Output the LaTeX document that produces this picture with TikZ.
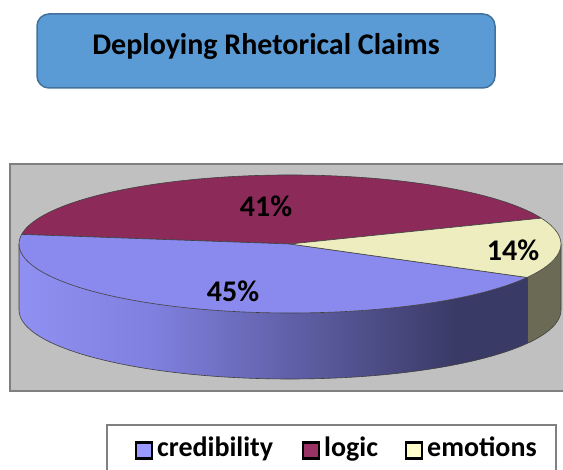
\documentclass[tikz,border=0pt]{standalone}
\usepackage{fontspec}
\setmainfont{Carlito}
\usetikzlibrary{calc}
\definecolor{titlefill}{HTML}{5B9BD5}
\definecolor{titleedge}{HTML}{41719C}
\definecolor{plotgray}{HTML}{C0C0C0}
\definecolor{frame}{HTML}{808080}
\definecolor{sliceblue}{HTML}{8A8AEE}
\definecolor{slicered}{HTML}{8C2A5A}
\definecolor{sliceyellow}{HTML}{EEEDC0}
\definecolor{sideyellow}{HTML}{6A6A55}
\definecolor{bsA}{HTML}{9090F2}
\definecolor{bsB}{HTML}{8080E0}
\definecolor{bsC}{HTML}{3A3A66}
\definecolor{legblue}{HTML}{9999FF}
\definecolor{legred}{HTML}{993366}
\definecolor{legyellow}{HTML}{FFFFCC}
\pgfdeclarehorizontalshading{bluesideshade}{100bp}{color(0bp)=(bsA); color(25bp)=(bsA); color(38bp)=(bsB); color(68bp)=(bsC); color(100bp)=(bsC)}
\tikzset{
  titlebox/.style={draw=titleedge, line width=1.5pt, fill=titlefill, rounded corners=12pt,
    minimum width=458pt, minimum height=74pt, font=\fontsize{30}{36}\selectfont\bfseries,
    text height=19pt, text depth=11pt},
  pielabel/.style={font=\fontsize{30}{36}\selectfont\bfseries, inner sep=0pt},
  legsq/.style={draw=black, line width=2.2pt, minimum width=16pt, minimum height=16pt, inner sep=0pt},
  legtext/.style={font=\fontsize{28}{34}\selectfont\bfseries, anchor=base west, inner sep=0pt},
  edge/.style={draw=black!75, line width=0.6pt}
}
\begin{document}
\begin{tikzpicture}[x=1pt,y=1pt]
\useasboundingbox (0,0) rectangle (563,470);
% title
\node[titlebox] (title) at (266,419) {Deploying Rhetorical Claims};
% plot area
\draw[frame, fill=plotgray, line width=1.5pt] (10,306) rectangle (580,79);
% pie geometry
\coordinate (c) at (290,226);
% blue side
\shade[shading=bluesideshade]
  ($(c)+(180:271pt and 69pt)$) arc[start angle=180, end angle=331, x radius=271pt, y radius=69pt]
  -- ++(0,-66) arc[start angle=331, end angle=180, x radius=271pt, y radius=69pt] -- cycle;
% yellow side
\fill[sideyellow]
  ($(c)+(331:271pt and 69pt)$) arc[start angle=331, end angle=360, x radius=271pt, y radius=69pt]
  -- ++(0,-66) arc[start angle=360, end angle=331, x radius=271pt, y radius=69pt] -- cycle;
% side outlines
\draw[edge] ($(c)+(180:271pt and 69pt)$) -- ++(0,-66)
  arc[start angle=180, end angle=360, x radius=271pt, y radius=69pt] -- ++(0,66);
\draw[edge] ($(c)+(331:271pt and 69pt)$) -- ++(0,-66);
% top slices
\filldraw[edge, fill=slicered] (c) -- ($(c)+(22:271pt and 69pt)$)
  arc[start angle=22, end angle=172, x radius=271pt, y radius=69pt] -- cycle;
\filldraw[edge, fill=sliceblue] (c) -- ($(c)+(172:271pt and 69pt)$)
  arc[start angle=172, end angle=331, x radius=271pt, y radius=69pt] -- cycle;
\filldraw[edge, fill=sliceyellow] (c) -- ($(c)+(331:271pt and 69pt)$)
  arc[start angle=331, end angle=382, x radius=271pt, y radius=69pt] -- cycle;
% labels
\node[pielabel] (llogic) at (266,264) {41\%};
\node[pielabel] (lcred) at (233,179) {45\%};
\node[pielabel] (lemo) at (513,219.5) {14\%};
% legend
\draw[frame, fill=white, line width=1.5pt] (107,45) rectangle (556,-10);
\node[legsq, fill=legblue] (sq1) at (144,19.5) {};
\node[legtext] (t1) at (157,13) {credibility};
\node[legsq, fill=legred] (sq2) at (311,19.5) {};
\node[legtext] (t2) at (324,13) {logic};
\node[legsq, fill=legyellow] (sq3) at (414,19.5) {};
\node[legtext] (t3) at (427,13) {emotions};
\end{tikzpicture}
\end{document}
